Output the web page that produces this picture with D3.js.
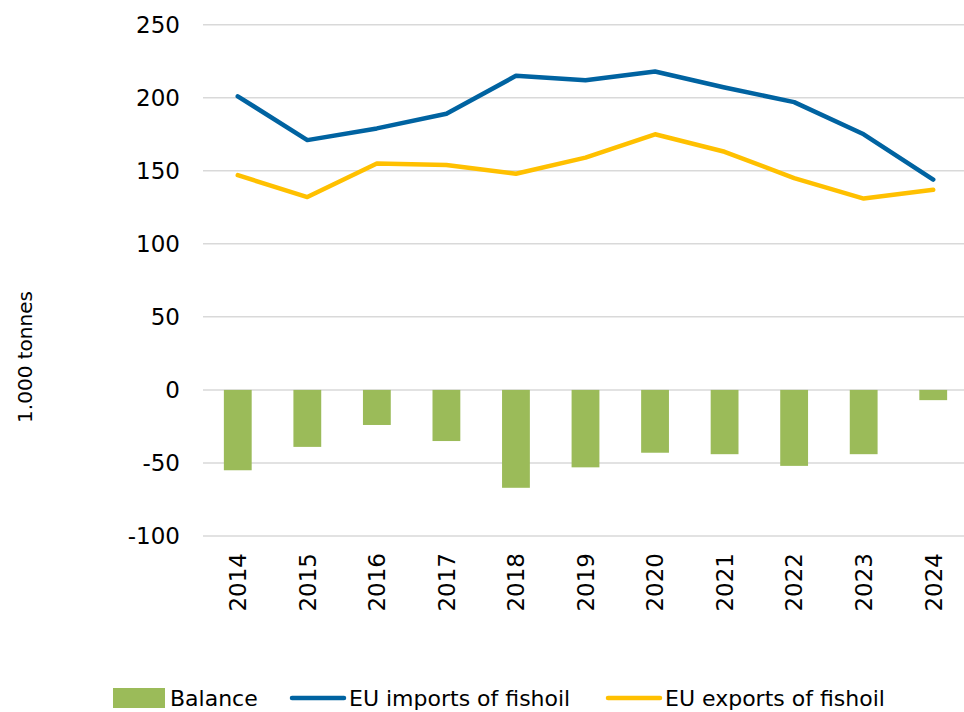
<!DOCTYPE html>
<html>
<head>
<meta charset="utf-8">
<script src="https://cdn.jsdelivr.net/npm/d3@7/dist/d3.min.js"></script>
<style>
  html, body { margin: 0; padding: 0; background: #ffffff; }
  svg { display: block; }
  text { font-family: "DejaVu Sans", sans-serif; fill: #000; }
</style>
</head>
<body>
<svg id="chart" width="964" height="712"></svg>
<script>
// EU fish oil trade, thousand tonnes
const years = ["2014", "2015", "2016", "2017", "2018", "2019", "2020", "2021", "2022", "2023", "2024"];
const balance = [-55, -39, -24, -35, -67, -53, -43, -44, -52, -44, -7];
const imports = [201, 171, 179, 189, 215, 212, 218, 207, 197, 175, 144];
const exports = [147, 132, 155, 154, 148, 159, 175, 163, 145, 131, 137];
const yTicks = [-100, -50, 0, 50, 100, 150, 200, 250];
const yTitle = "1.000 tonnes";
const legendItems = [
  { label: "Balance", kind: "bar" },
  { label: "EU imports of fishoil", kind: "imports" },
  { label: "EU exports of fishoil", kind: "exports" }
];

const colors = { bar: "#9bbb59", imports: "#0063a1", exports: "#ffc000" };

const svg = d3.select("#chart");
const plot = { left: 203, right: 968, top: 24.7, bottom: 536 };

const x = d3.scaleBand().domain(years).range([plot.left, plot.right]).padding(0);
const y = d3.scaleLinear().domain([-100, 250]).range([plot.bottom, plot.top]);
const cx = d => x(d) + x.bandwidth() / 2;
const barW = x.bandwidth() * 0.4;

// horizontal gridlines
svg.append("g")
  .selectAll("line")
  .data(yTicks)
  .join("line")
  .attr("x1", plot.left).attr("x2", plot.right)
  .attr("y1", d => y(d)).attr("y2", d => y(d))
  .attr("stroke", "#d9d9d9").attr("stroke-width", 1.5);

// y axis labels
const yAxis = d3.axisLeft(y).tickValues(yTicks).tickSize(0).tickPadding(0)
  .tickFormat(d => d < 0 ? "\u2212" + Math.abs(d) : d);
svg.append("g")
  .attr("transform", `translate(180,0)`)
  .call(yAxis)
  .call(g => g.select(".domain").remove())
  .call(g => g.selectAll("text")
    .style("font-family", "'DejaVu Sans', sans-serif")
    .style("font-size", "23px")
    .attr("fill", "#000"));

// replace minus sign with hyphen look as in the source
svg.selectAll("g text").filter(function() { return this.textContent.startsWith("\u2212"); })
  .text(function() { return "-" + this.textContent.slice(1); });

// x axis labels (rotated)
const xAxis = d3.axisBottom(x).tickSize(0).tickPadding(0);
svg.append("g")
  .attr("transform", `translate(0,${plot.bottom})`)
  .call(xAxis)
  .call(g => g.select(".domain").remove())
  .call(g => g.selectAll("text")
    .style("font-family", "'DejaVu Sans', sans-serif")
    .style("font-size", "23px")
    .attr("fill", "#000")
    .attr("text-anchor", "end")
    .attr("transform", "rotate(-90)")
    .attr("x", -17)
    .attr("y", 0)
    .attr("dy", "0.36em"));

// balance bars
svg.append("g")
  .selectAll("rect")
  .data(years.map((yr, i) => ({ yr, v: balance[i] })))
  .join("rect")
  .attr("x", d => cx(d.yr) - barW / 2)
  .attr("width", barW)
  .attr("y", d => Math.min(y(0), y(d.v)))
  .attr("height", d => Math.abs(y(d.v) - y(0)))
  .attr("fill", colors.bar);

// lines
const line = d3.line().x(d => cx(d.yr)).y(d => y(d.v));
[[imports, colors.imports], [exports, colors.exports]].forEach(([vals, col]) => {
  svg.append("path")
    .datum(years.map((yr, i) => ({ yr, v: vals[i] })))
    .attr("d", line)
    .attr("fill", "none")
    .attr("stroke", col)
    .attr("stroke-width", 4.5)
    .attr("stroke-linejoin", "round")
    .attr("stroke-linecap", "round");
});

// y axis title
svg.append("text")
  .attr("transform", "translate(25,357) rotate(-90)")
  .attr("text-anchor", "middle")
  .attr("dy", "0.35em")
  .style("font-size", "20px")
  .text(yTitle);

// legend
const legendY = 698;
const legendX = [113, 290, 606];
const lg = svg.append("g");
legendItems.forEach((item, i) => {
  const g = lg.append("g").attr("transform", `translate(${legendX[i]},${legendY})`);
  if (item.kind === "bar") {
    g.append("rect").attr("x", 0).attr("y", -10).attr("width", 52).attr("height", 20).attr("fill", colors.bar);
  } else {
    g.append("line").attr("x1", 2).attr("x2", 54).attr("y1", 0).attr("y2", 0)
      .attr("stroke", colors[item.kind]).attr("stroke-width", 4.5).attr("stroke-linecap", "round");
  }
  g.append("text")
    .attr("x", i === 0 ? 57 : 59)
    .attr("dy", "0.36em")
    .style("font-size", "22px")
    .text(item.label);
});
</script>
</body>
</html>
